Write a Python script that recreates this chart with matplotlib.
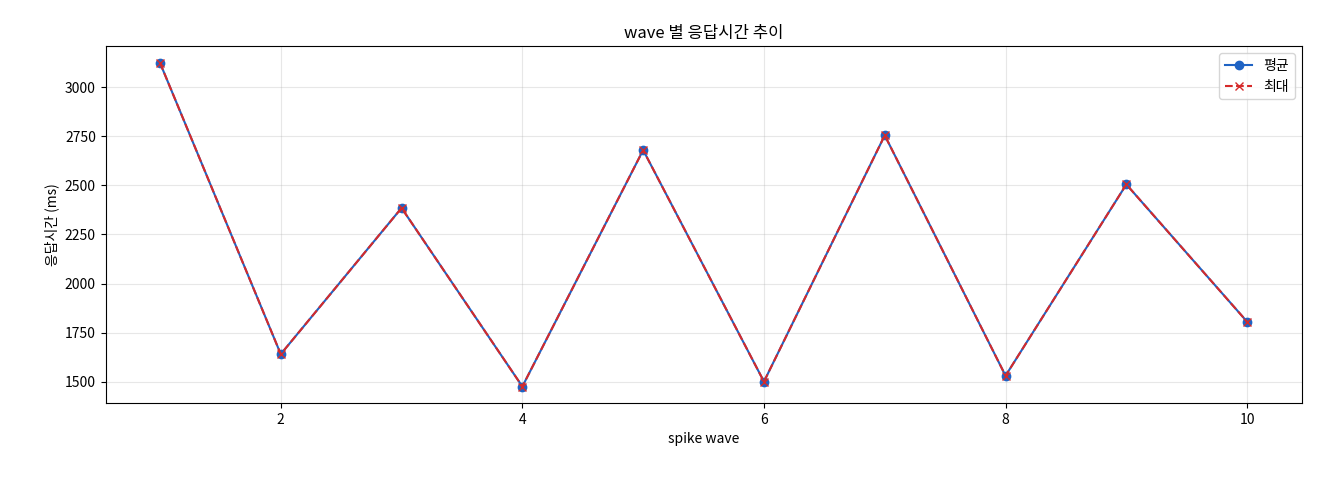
import matplotlib
matplotlib.use("Agg")
import matplotlib.pyplot as plt

plt.rcParams['font.family'] = ['Noto Sans CJK KR', 'DejaVu Sans']
plt.rcParams['axes.unicode_minus'] = False

waves = [1, 2, 3, 4, 5, 6, 7, 8, 9, 10]
avg_ms = [3125, 1640, 2385, 1475, 2680, 1500, 2755, 1530, 2505, 1805]
max_ms = [3125, 1640, 2385, 1475, 2680, 1500, 2755, 1530, 2505, 1805]

fig = plt.figure(figsize=(13.2, 4.8), dpi=100)
ax = fig.add_axes([0.080, 0.160, 0.906, 0.744])
ax.plot(waves, avg_ms, marker='o', color='#1f63c4', label='평균', linewidth=1.5, markersize=6)
ax.plot(waves, max_ms, marker='x', linestyle='--', color='#d62a2a', label='최대', linewidth=1.5, markersize=6)
ax.set_title('wave 별 응답시간 추이', fontsize=12)
ax.set_xlabel('spike wave', fontsize=10)
ax.set_ylabel('응답시간 (ms)', fontsize=10)
ax.set_yticks([1500, 1750, 2000, 2250, 2500, 2750, 3000])
ax.set_ylim(1390, 3210)
ax.grid(True, alpha=0.3)
ax.legend(loc='upper right')
fig.savefig('out.png', dpi=100)
